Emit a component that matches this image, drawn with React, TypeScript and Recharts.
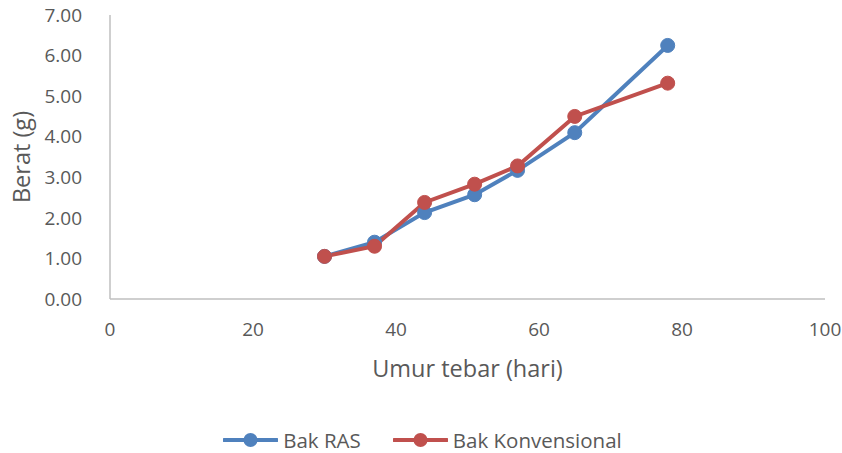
import { LineChart, Line, XAxis, YAxis, Legend } from "recharts";

const days = [30, 37, 44, 51, 57, 65, 78];
const bakRas = [1.05, 1.4, 2.13, 2.57, 3.17, 4.1, 6.25];
const bakKonvensional = [1.05, 1.3, 2.38, 2.83, 3.28, 4.5, 5.32];
const xTicks = [0, 20, 40, 60, 80, 100];
const yTicks = [0, 1, 2, 3, 4, 5, 6, 7];

const BLUE = "#4F81BD";
const RED = "#C0504D";
const TEXT = "#595959";
const AXIS = "#BFBFBF";
const FONT = "'Open Sans', sans-serif";

const data = days.map((d, i) => ({
  day: d,
  ras: bakRas[i],
  konv: bakKonvensional[i],
}));

const legendItems = [
  { name: "Bak RAS", color: BLUE },
  { name: "Bak Konvensional", color: RED },
];

function LegendContent() {
  return (
    <div
      style={{
        display: "flex",
        justifyContent: "center",
        alignItems: "center",
        height: 40,
        paddingTop: 14,
        paddingLeft: 20,
        boxSizing: "border-box",
        fontFamily: FONT,
        fontSize: 20.5,
        lineHeight: "24px",
        color: TEXT,
      }}
    >
      {legendItems.map((item, i) => (
        <div
          key={item.name}
          style={{ display: "flex", alignItems: "center", marginLeft: i ? 32 : 0 }}
        >
          <svg width={55} height={16} style={{ marginRight: 5 }}>
            <line x1={1} y1={8} x2={54} y2={8} stroke={item.color} strokeWidth={4} strokeLinecap="round" />
            <circle cx={27.5} cy={8} r={7} fill={item.color} />
          </svg>
          <span>{item.name}</span>
        </div>
      ))}
    </div>
  );
}

export default function App() {
  return (
    <div style={{ position: "absolute", left: 0, top: 0, background: "#fff" }}>
      <LineChart width={842} height={453} data={data} margin={{ top: 15, right: 17, left: 0, bottom: 0 }}>
        <XAxis
          dataKey="day"
          type="number"
          domain={[0, 100]}
          ticks={xTicks}
          axisLine={{ stroke: AXIS, strokeWidth: 1.5 }}
          tickLine={false}
          tickMargin={18}
          height={114}
          tick={{ fill: TEXT, fontSize: 19, fontFamily: FONT }}
          label={{
            value: "Umur tebar (hari)",
            position: "insideBottom",
            offset: 36,
            fill: TEXT,
            fontSize: 23.5,
            fontFamily: FONT,
          }}
        />
        <YAxis
          type="number"
          domain={[0, 7]}
          ticks={yTicks}
          width={110}
          axisLine={{ stroke: AXIS, strokeWidth: 1.5 }}
          tickLine={false}
          tickMargin={22}
          tickFormatter={(v: number) => v.toFixed(2)}
          tick={{ fill: TEXT, fontSize: 19, fontFamily: FONT }}
          label={{
            value: "Berat (g)",
            angle: -90,
            position: "insideLeft",
            offset: 22,
            fill: TEXT,
            fontSize: 23.5,
            fontFamily: FONT,
            style: { textAnchor: "middle" },
          }}
        />
        <Legend verticalAlign="bottom" height={40} content={<LegendContent />} />
        <Line
          dataKey="ras"
          name="Bak RAS"
          stroke={BLUE}
          strokeWidth={4}
          dot={{ r: 7, fill: BLUE, stroke: BLUE, strokeWidth: 1 }}
          activeDot={false}
          isAnimationActive={false}
        />
        <Line
          dataKey="konv"
          name="Bak Konvensional"
          stroke={RED}
          strokeWidth={4}
          dot={{ r: 7, fill: RED, stroke: RED, strokeWidth: 1 }}
          activeDot={false}
          isAnimationActive={false}
        />
      </LineChart>
    </div>
  );
}
